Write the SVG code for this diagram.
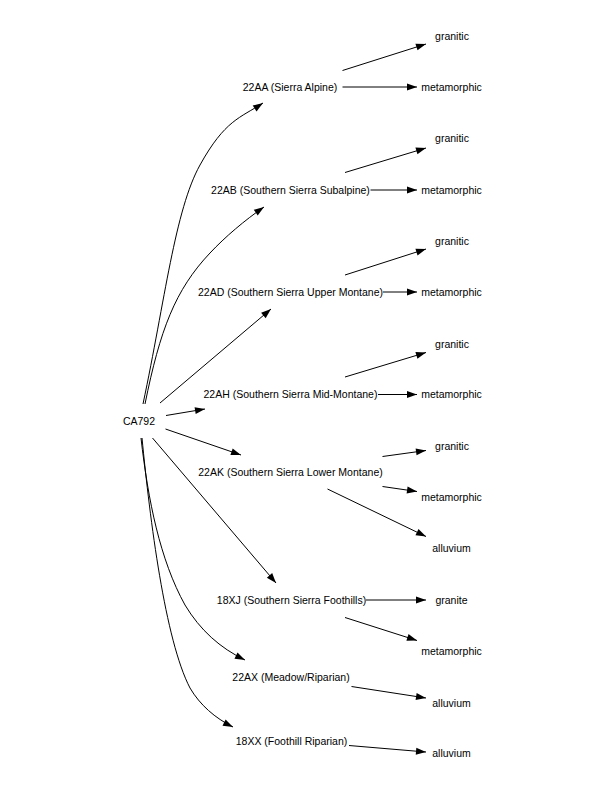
<svg xmlns="http://www.w3.org/2000/svg" width="599" height="788" viewBox="0 0 599 788">
<style>
text{font-family:"Liberation Sans",Arial,sans-serif;font-size:10.5px;fill:#000;text-anchor:middle}
.e{fill:none;stroke:#000;stroke-width:1;marker-end:url(#ah)}
</style>
<defs>
<marker id="ah" markerUnits="userSpaceOnUse" markerWidth="10" markerHeight="7" refX="10" refY="3.5" orient="auto" overflow="visible">
<path d="M0,0 L10,3.5 L0,7 Z" fill="#000"/>
</marker>
</defs>
<rect width="599" height="788" fill="#fff"/>
<g id="edges">
<path class="e" d="M143,404 C165,300 175,210 200,165 S240,118 263,103"/>
<path class="e" d="M145,404 C160,330 175,290 210,253 C225,237 245,220 264,207"/>
<path class="e" d="M160,403 L271,309"/>
<path class="e" d="M166,415.5 L205,409"/>
<path class="e" d="M165.5,429 L241,455"/>
<path class="e" d="M152.5,438 L276,583"/>
<path class="e" d="M141,438 C148,500 160,560 185,605 C200,630 220,648 245,660"/>
<path class="e" d="M142,438 C150,520 165,640 190,688 C200,705 215,718 233,727"/>
<path class="e" d="M342.5,70.5 L426,44"/>
<path class="e" d="M342.5,87 L417,87"/>
<path class="e" d="M345,172.5 L426,148"/>
<path class="e" d="M370.5,190 L417,190"/>
<path class="e" d="M345,275 L426,249"/>
<path class="e" d="M383,292 L417,292"/>
<path class="e" d="M345,377 L426,352.5"/>
<path class="e" d="M378,394.5 L417,394.5"/>
<path class="e" d="M382.5,456.5 L426,450.5"/>
<path class="e" d="M382.5,486.5 L417,491.5"/>
<path class="e" d="M327.5,489 L426,536.5"/>
<path class="e" d="M366,600 L426,600"/>
<path class="e" d="M345,617.5 L417,640.5"/>
<path class="e" d="M351.5,686.5 L426,698"/>
<path class="e" d="M349,745.5 L426,752"/>
</g>
<g id="CA792"><text x="139" y="424.5">CA792</text></g>
<g id="n22AA"><text x="290" y="90.5">22AA (Sierra Alpine)</text></g>
<g id="n22AA_granitic"><text x="452" y="39.5">granitic</text></g>
<g id="n22AA_metamorphic"><text x="451.5" y="91">metamorphic</text></g>
<g id="n22AB"><text x="290.5" y="194">22AB (Southern Sierra Subalpine)</text></g>
<g id="n22AB_granitic"><text x="452" y="142">granitic</text></g>
<g id="n22AB_metamorphic"><text x="451.5" y="194">metamorphic</text></g>
<g id="n22AD"><text x="290.5" y="295.5">22AD (Southern Sierra Upper Montane)</text></g>
<g id="n22AD_granitic"><text x="452" y="244.5">granitic</text></g>
<g id="n22AD_metamorphic"><text x="451.5" y="296">metamorphic</text></g>
<g id="n22AH"><text x="290.5" y="398">22AH (Southern Sierra Mid-Montane)</text></g>
<g id="n22AH_granitic"><text x="452" y="348">granitic</text></g>
<g id="n22AH_metamorphic"><text x="451.5" y="398">metamorphic</text></g>
<g id="n22AK"><text x="290.5" y="475.5">22AK (Southern Sierra Lower Montane)</text></g>
<g id="n22AK_granitic"><text x="452" y="449.5">granitic</text></g>
<g id="n22AK_metamorphic"><text x="451.5" y="500.5">metamorphic</text></g>
<g id="n22AK_alluvium"><text x="451.5" y="552">alluvium</text></g>
<g id="n18XJ"><text x="291.5" y="604">18XJ (Southern Sierra Foothills)</text></g>
<g id="n18XJ_granite"><text x="451.5" y="604">granite</text></g>
<g id="n18XJ_metamorphic"><text x="451.5" y="654.5">metamorphic</text></g>
<g id="n22AX"><text x="291" y="680.5">22AX (Meadow/Riparian)</text></g>
<g id="n22AX_alluvium"><text x="451.5" y="706.5">alluvium</text></g>
<g id="n18XX"><text x="291.5" y="744.5">18XX (Foothill Riparian)</text></g>
<g id="n18XX_alluvium"><text x="451.5" y="757">alluvium</text></g>
</svg>
